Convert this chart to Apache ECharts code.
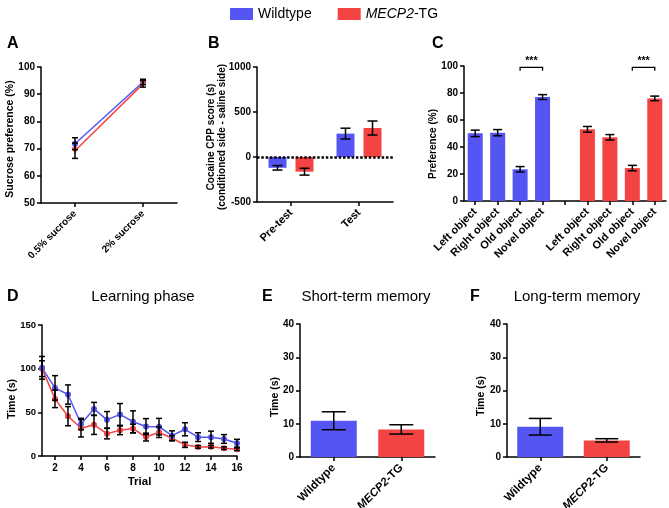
<!DOCTYPE html>
<html>
<head>
<meta charset="utf-8">
<script src="https://cdn.jsdelivr.net/npm/echarts@6/dist/echarts.min.js"></script>
<style>html,body{margin:0;padding:0;background:#fff}#c{width:669px;height:508px}</style>
</head>
<body>
<div id="c"></div>
<script>
// ---------------- data ----------------
const legendNames = ['Wildtype', 'MECP2-TG'];

const sucroseCats = ['0.5% sucrose', '2% sucrose'];
const sucroseWT = [71.8, 94.5];
const sucroseWTErr = [2.2, 1.0];
const sucroseTG = [69.2, 93.8];
const sucroseTGErr = [2.8, 1.2];

const cppCats = ['Pre-test', 'Test'];
const cppWT = [-120, 260];
const cppWTErr = [25, 60];
const cppTG = [-163, 322];
const cppTGErr = [38, 78];

const objCats = ['Left object', 'Right object', 'Old object', 'Novel object', '', 'Left object', 'Right object', 'Old object', 'Novel object'];
const objWT = [50.1, 50.6, 23.5, 77.0, null, null, null, null, null];
const objWTErr = [2.4, 2.3, 2.0, 1.8, null, null, null, null, null];
const objTG = [null, null, null, null, null, 53.1, 47.2, 24.4, 76.0];
const objTGErr = [null, null, null, null, null, 2.1, 2.0, 2.0, 1.7];
const sigPairs = [[2, 3], [7, 8]];
const sigLevel = 99.0;
const sigLabel = '***';

const trials = [1, 2, 3, 4, 5, 6, 7, 8, 9, 10, 11, 12, 13, 14, 15, 16];
const trialTicks = [2, 4, 6, 8, 10, 12, 14, 16];
const learnWT = [101, 78, 70.4, 36.7, 53.9, 41.4, 47.6, 39.2, 33.8, 33.6, 23.3, 30.6, 21.6, 21.5, 19.5, 14.6];
const learnWTErr = [13, 14, 11, 6.5, 7.5, 9.5, 12.5, 12.5, 9, 9.5, 5.5, 7.5, 5, 7, 5, 4.5];
const learnTG = [100, 65.4, 45.6, 31.8, 35.7, 25.6, 29.4, 31.4, 21.7, 27.2, 20.3, 12.8, 10.4, 10.6, 9.0, 7.7];
const learnTGErr = [9, 10, 11, 10, 11, 6, 5, 5, 4.5, 6, 3, 3, 1.5, 1.5, 1.5, 1.5];

const memCats = ['Wildtype', 'MECP2-TG'];
const shortTerm = [10.9, 8.3];
const shortTermErr = [2.7, 1.4];
const longTerm = [9.1, 5.0];
const longTermErr = [2.5, 0.5];

// ---------------- styling ----------------
const BLUE = '#5555F4';
const RED = '#F44343';
const FONT = 'Liberation Sans, Arial, Helvetica, sans-serif';
const memColors = [BLUE, RED];

function errBars(offset, cap) {
  return function (params, api) {
    const x = api.value(0), m = api.value(1), e = api.value(2);
    const top = api.coord([x, m + e]);
    const bot = api.coord([x, m - e]);
    const cx = top[0] + offset, h = cap / 2;
    const st = { stroke: '#000', lineWidth: 1.5 };
    return {
      type: 'group', children: [
        { type: 'line', shape: { x1: cx, y1: top[1], x2: cx, y2: bot[1] }, style: st },
        { type: 'line', shape: { x1: cx - h, y1: top[1], x2: cx + h, y2: top[1] }, style: st },
        { type: 'line', shape: { x1: cx - h, y1: bot[1], x2: cx + h, y2: bot[1] }, style: st }
      ]
    };
  };
}
function zipErr(xs, ms, es) {
  const out = [];
  ms.forEach((m, i) => { if (m !== null && m !== undefined) out.push([xs[i], m, es[i]]); });
  return out;
}
function errSeries(gi, data, offset, cap) {
  return { type: 'custom', xAxisIndex: gi, yAxisIndex: gi, data: data, encode: { x: 0, y: 1 },
    renderItem: errBars(offset, cap), z: 5, silent: true };
}
const axisLine = { show: true, onZero: false, lineStyle: { color: '#000', width: 1.5 } };
const axisTick = { show: true, length: 4, lineStyle: { color: '#000', width: 1.5 } };
function yAx(gi, min, max, interval, fs) {
  return { type: 'value', gridIndex: gi, min: min, max: max, interval: interval,
    axisLine: axisLine, axisTick: axisTick, splitLine: { show: false },
    axisLabel: { color: '#000', fontWeight: 'bold', fontSize: fs, fontFamily: FONT, margin: 6, formatter: v => String(v) } };
}
function xCat(gi, data, fs, extra) {
  return Object.assign({ type: 'category', gridIndex: gi, data: data, boundaryGap: true,
    axisLine: axisLine, axisTick: Object.assign({ alignWithLabel: true, interval: 0 }, axisTick),
    axisLabel: { color: '#000', fontWeight: 'bold', fontSize: fs, fontFamily: FONT, rotate: 45, interval: 0, margin: 9,
      rich: { i: { fontStyle: 'italic', fontWeight: 'bold', fontSize: fs, fontFamily: FONT, color: '#000' } } } }, extra || {});
}
const mecpFmt = v => v === 'MECP2-TG' ? '{i|MECP2}-TG' : v;

function txt(x, y, text, size, weight, align) {
  return { type: 'text', x: x, y: y, silent: true,
    style: { text: text, fontSize: size, fontWeight: weight, fontFamily: FONT, fill: '#000', align: align || 'left', verticalAlign: 'middle' } };
}
function vtxt(x, y, text, size) {
  return { type: 'text', x: x, y: y, rotation: Math.PI / 2, silent: true,
    style: { text: text, fontSize: size, fontWeight: 'bold', fontFamily: FONT, fill: '#000', align: 'center', verticalAlign: 'middle', lineHeight: size + 1 } };
}

const grids = [
  { left: 41, top: 67, width: 136, height: 136 },   // A
  { left: 257, top: 67, width: 136, height: 135 },  // B
  { left: 464, top: 66, width: 202, height: 135 },  // C
  { left: 42, top: 325, width: 195, height: 131 },  // D
  { left: 300, top: 324, width: 135, height: 133 }, // E
  { left: 507, top: 324, width: 133, height: 133 }  // F
].map(g => Object.assign({ containLabel: false, outerBoundsMode: 'none' }, g));

const option = {
  animation: false,
  backgroundColor: '#fff',
  textStyle: { fontFamily: FONT },
  legend: {
    data: legendNames, left: 225, top: 2, icon: 'rect', itemWidth: 23, itemHeight: 12, itemGap: 26,
    selectedMode: false,
    itemStyle: { borderWidth: 0 },
    textStyle: { fontSize: 14, color: '#000', fontFamily: FONT,
      rich: { i: { fontStyle: 'italic', fontSize: 14, fontFamily: FONT, color: '#000' } } },
    formatter: mecpFmt
  },
  grid: grids,
  xAxis: [
    xCat(0, sucroseCats, 10),
    xCat(1, cppCats, 11),
    xCat(2, objCats, 11),
    { type: 'value', gridIndex: 3, min: 1, max: 16, axisLine: axisLine, splitLine: { show: false },
      axisTick: Object.assign({ customValues: trialTicks }, axisTick),
      axisLabel: { customValues: trialTicks, color: '#000', fontWeight: 'bold', fontSize: 10, fontFamily: FONT, margin: 7 },
      name: 'Trial', nameLocation: 'middle', nameGap: 20,
      nameTextStyle: { fontSize: 11.5, fontWeight: 'bold', color: '#000', fontFamily: FONT } },
    xCat(4, memCats, 11.5, {}),
    xCat(5, memCats, 11.5, {})
  ],
  yAxis: [
    yAx(0, 50, 100, 10, 10),
    yAx(1, -500, 1000, 500, 10),
    yAx(2, 0, 100, 20, 10),
    yAx(3, 0, 150, 50, 9.5),
    yAx(4, 0, 40, 10, 10),
    yAx(5, 0, 40, 10, 10)
  ],
  graphic: [
    txt(7, 44, 'A', 16, 'bold'), txt(208, 44, 'B', 16, 'bold'), txt(432, 44, 'C', 16, 'bold'),
    txt(7, 297, 'D', 16, 'bold'), txt(262, 297, 'E', 16, 'bold'), txt(470, 297, 'F', 16, 'bold'),
    txt(143, 297, 'Learning phase', 15, 'normal', 'center'),
    txt(366, 297, 'Short-term memory', 15, 'normal', 'center'),
    txt(577, 297, 'Long-term memory', 15, 'normal', 'center'),
    vtxt(10, 139, 'Sucrose preference (%)', 10.5),
    vtxt(217, 137, 'Cocaine CPP score (s)\n(conditioned side - saline side)', 10),
    vtxt(433, 144, 'Preference (%)', 10),
    vtxt(12, 399, 'Time (s)', 10.5),
    vtxt(275, 397, 'Time (s)', 10.5),
    vtxt(481, 396, 'Time (s)', 10.5)
  ],
  series: [
    // B (first so legend colours come from bars)
    { type: 'bar', name: 'Wildtype', xAxisIndex: 1, yAxisIndex: 1, data: cppWT, barWidth: 18, barGap: '50%',
      itemStyle: { color: BLUE },
      markLine: { silent: true, symbol: 'none', label: { show: false }, z: 6,
        lineStyle: { color: '#000', type: [2.5, 1.8], width: 2.5 }, data: [{ yAxis: 0 }] } },
    { type: 'bar', name: 'MECP2-TG', xAxisIndex: 1, yAxisIndex: 1, data: cppTG, barWidth: 18, barGap: '50%',
      itemStyle: { color: RED } },
    errSeries(1, zipErr([0, 1], cppWT, cppWTErr), -13.5, 10),
    errSeries(1, zipErr([0, 1], cppTG, cppTGErr), 13.5, 10),

    // A
    { type: 'line', name: 'Wildtype', xAxisIndex: 0, yAxisIndex: 0, data: sucroseWT, symbol: 'circle', symbolSize: 6,
      itemStyle: { color: BLUE }, lineStyle: { color: BLUE, width: 1.5 }, z: 3 },
    { type: 'line', name: 'MECP2-TG', xAxisIndex: 0, yAxisIndex: 0, data: sucroseTG, symbol: 'triangle', symbolRotate: 180, symbolSize: 7,
      itemStyle: { color: RED }, lineStyle: { color: RED, width: 1.5 }, z: 3 },
    errSeries(0, zipErr([0, 1], sucroseWT, sucroseWTErr), 0, 6),
    errSeries(0, zipErr([0, 1], sucroseTG, sucroseTGErr), 0, 6),

    // C
    { type: 'bar', name: 'Wildtype', xAxisIndex: 2, yAxisIndex: 2, data: objWT.map(v => v === null ? '-' : v), barWidth: 15, barGap: '-100%',
      itemStyle: { color: BLUE } },
    { type: 'bar', name: 'MECP2-TG', xAxisIndex: 2, yAxisIndex: 2, data: objTG.map(v => v === null ? '-' : v), barWidth: 15, barGap: '-100%',
      itemStyle: { color: RED } },
    errSeries(2, zipErr(objCats.map((c, i) => i), objWT, objWTErr), 0, 9),
    errSeries(2, zipErr(objCats.map((c, i) => i), objTG, objTGErr), 0, 9),
    { type: 'custom', xAxisIndex: 2, yAxisIndex: 2, silent: true, z: 6,
      data: sigPairs.map(p => [p[0], p[1], sigLevel]), encode: { x: [0, 1], y: 2 },
      renderItem: function (params, api) {
        const p1 = api.coord([api.value(0), api.value(2)]);
        const p2 = api.coord([api.value(1), api.value(2)]);
        return { type: 'group', children: [
          { type: 'polyline', shape: { points: [[p1[0], p1[1] + 3.5], [p1[0], p1[1]], [p2[0], p2[1]], [p2[0], p2[1] + 3.5]] },
            style: { stroke: '#000', lineWidth: 1.3, fill: 'none' } },
          { type: 'text', x: (p1[0] + p2[0]) / 2, y: p1[1] - 1,
            style: { text: sigLabel, fontSize: 10.5, fontWeight: 'bold', fontFamily: FONT, fill: '#000', align: 'center', verticalAlign: 'bottom' } }
        ] };
      } },

    // D
    { type: 'line', name: 'MECP2-TG', xAxisIndex: 3, yAxisIndex: 3, data: trials.map((t, i) => [t, learnTG[i]]),
      symbol: 'circle', symbolSize: 6, itemStyle: { color: RED }, lineStyle: { color: RED, width: 1.5 }, z: 3 },
    { type: 'line', name: 'Wildtype', xAxisIndex: 3, yAxisIndex: 3, data: trials.map((t, i) => [t, learnWT[i]]),
      symbol: 'circle', symbolSize: 6, itemStyle: { color: BLUE }, lineStyle: { color: BLUE, width: 1.5 }, z: 3 },
    errSeries(3, zipErr(trials, learnWT, learnWTErr), 0, 6),
    errSeries(3, zipErr(trials, learnTG, learnTGErr), 0, 6),

    // E
    { type: 'bar', xAxisIndex: 4, yAxisIndex: 4, barWidth: 46,
      data: shortTerm.map((v, i) => ({ value: v, itemStyle: { color: memColors[i] } })) },
    errSeries(4, zipErr([0, 1], shortTerm, shortTermErr), 0, 24),

    // F
    { type: 'bar', xAxisIndex: 5, yAxisIndex: 5, barWidth: 46,
      data: longTerm.map((v, i) => ({ value: v, itemStyle: { color: memColors[i] } })) },
    errSeries(5, zipErr([0, 1], longTerm, longTermErr), 0, 23)
  ]
};
option.xAxis[4].axisLabel.formatter = mecpFmt;
option.xAxis[5].axisLabel.formatter = mecpFmt;

const chart = echarts.init(document.getElementById('c'), null, { renderer: 'canvas' });
chart.setOption(option);
</script>
</body>
</html>
